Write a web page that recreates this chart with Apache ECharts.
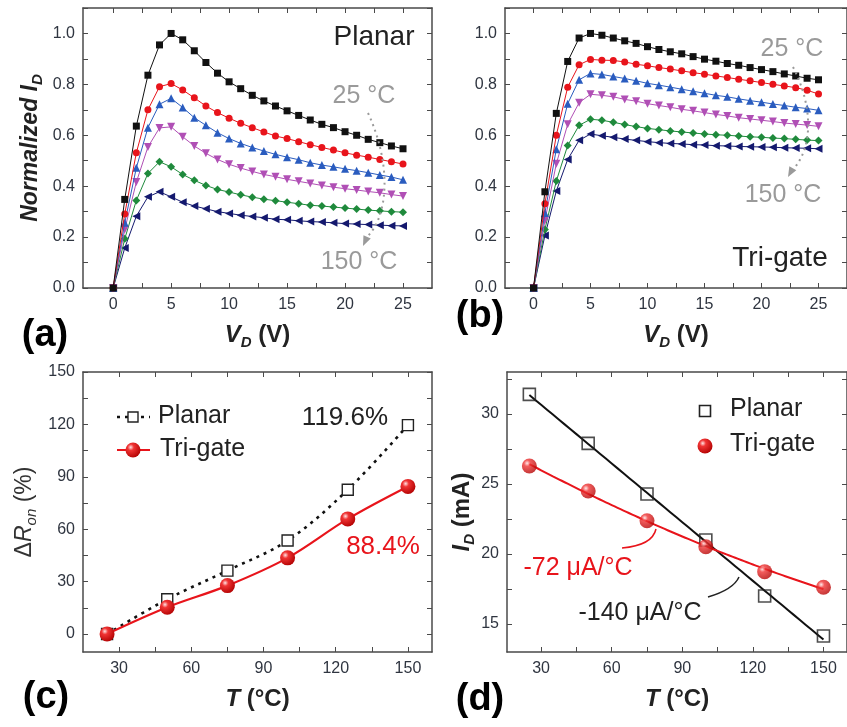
<!DOCTYPE html>
<html><head><meta charset="utf-8">
<script src="https://cdn.jsdelivr.net/npm/echarts@6/dist/echarts.min.js"></script>
<style>html,body{margin:0;padding:0;background:#fff}#c{width:847px;height:727px}</style>
</head><body><div id="c"></div>
<script>
// ---------- DATA ----------
const vd = [0,1,2,3,4,5,6,7,8,9,10,11,12,13,14,15,16,17,18,19,20,21,22,23,24,25];
const tempNames = ['25 °C','50 °C','75 °C','100 °C','125 °C','150 °C'];
// (a) Planar, normalized ID vs VD
const planar25  = [0,0.348,0.636,0.836,0.955,1.000,0.975,0.932,0.886,0.844,0.810,0.783,0.757,0.735,0.715,0.696,0.678,0.660,0.643,0.630,0.614,0.600,0.584,0.571,0.558,0.547];
const planar50  = [0,0.291,0.531,0.700,0.791,0.803,0.778,0.747,0.715,0.689,0.667,0.647,0.630,0.613,0.597,0.587,0.575,0.563,0.552,0.542,0.531,0.522,0.514,0.505,0.496,0.487];
const planar75  = [0,0.256,0.472,0.630,0.722,0.745,0.709,0.669,0.639,0.610,0.587,0.568,0.552,0.538,0.525,0.514,0.504,0.492,0.483,0.476,0.468,0.461,0.453,0.444,0.436,0.425];
const planar100 = [0,0.230,0.416,0.554,0.629,0.633,0.594,0.558,0.529,0.505,0.486,0.471,0.458,0.446,0.437,0.427,0.419,0.411,0.403,0.396,0.390,0.385,0.379,0.374,0.367,0.361];
const planar125 = [0,0.193,0.344,0.450,0.496,0.476,0.446,0.423,0.403,0.387,0.377,0.366,0.357,0.349,0.343,0.337,0.331,0.325,0.322,0.318,0.314,0.310,0.306,0.303,0.300,0.298];
const planar150 = [0,0.157,0.282,0.358,0.378,0.358,0.337,0.322,0.311,0.300,0.293,0.286,0.281,0.276,0.270,0.268,0.264,0.261,0.259,0.256,0.253,0.251,0.249,0.247,0.245,0.244];
// (b) Tri-gate
const tri25  = [0,0.378,0.686,0.890,0.982,1.000,0.993,0.982,0.971,0.961,0.948,0.937,0.928,0.920,0.909,0.899,0.891,0.882,0.875,0.866,0.858,0.850,0.841,0.833,0.824,0.818];
const tri50  = [0,0.331,0.600,0.789,0.877,0.898,0.895,0.894,0.888,0.879,0.873,0.866,0.860,0.853,0.846,0.840,0.833,0.827,0.820,0.814,0.807,0.800,0.794,0.787,0.777,0.762];
const tri75  = [0,0.295,0.545,0.724,0.818,0.843,0.839,0.831,0.823,0.814,0.804,0.797,0.789,0.781,0.773,0.765,0.757,0.751,0.743,0.736,0.730,0.723,0.717,0.710,0.705,0.698];
const tri100 = [0,0.265,0.488,0.643,0.728,0.761,0.757,0.751,0.741,0.734,0.724,0.717,0.710,0.702,0.696,0.689,0.682,0.676,0.669,0.664,0.659,0.654,0.648,0.644,0.640,0.635];
const tri125 = [0,0.230,0.420,0.560,0.639,0.663,0.659,0.651,0.642,0.634,0.627,0.622,0.617,0.613,0.609,0.605,0.602,0.600,0.597,0.594,0.592,0.589,0.587,0.584,0.581,0.579];
const tri150 = [0,0.206,0.381,0.505,0.580,0.605,0.598,0.592,0.585,0.580,0.575,0.571,0.568,0.566,0.563,0.562,0.559,0.558,0.556,0.555,0.554,0.553,0.551,0.550,0.549,0.547];
// (c) ΔRon vs T
const temps = [25,50,75,100,125,150];
const dRonPlanar = [0,19.9,36.3,53.5,82.6,119.6];
const dRonTri    = [0,15.3,27.7,43.6,65.9,84.5];
// (d) ID vs T
const idPlanar = [31.4,27.9,24.29,21.0,17.0,14.14];
const idTri    = [26.29,24.5,22.38,20.52,18.74,17.62];
// tick values / labels
const vdTicks  = [0,2.5,5,7.5,10,12.5,15,17.5,20,22.5,25];
const vdLabels = [0,5,10,15,20,25];
const normTicks  = [0,0.1,0.2,0.3,0.4,0.5,0.6,0.7,0.8,0.9,1.0,1.1];
const normLabels = [0,0.2,0.4,0.6,0.8,1.0];
const tTicks  = [30,45,60,75,90,105,120,135,150];
const tLabels = [30,60,90,120,150];
const ronTicks  = [0,15,30,45,60,75,90,105,120,135,150];
const ronLabels = [0,30,60,90,120,150];
const idTicks  = [15,17.5,20,22.5,25,27.5,30,32.5];
const idLabels = [15,20,25,30];

// ---------- STYLE ----------
const FONT = "'Liberation Sans', Arial, Helvetica, sans-serif";
const AXC = '#4a4a4a';
const LBL = '#2f3540';
const RED = '#e8141b';
const curveColors = ['#111111', '#e8141b', '#2a5cbf', '#b04fb5', '#1f8a3c', '#14196e'];
const curveSymbols = ['rect','circle','triangle','triangle','diamond','triangle'];
const curveRot = [0,0,0,180,0,90];
const curveSize = [7,7,8,8,8,8];

function sphere() {
  return new echarts.graphic.RadialGradient(0.35, 0.32, 0.75, [
    {offset:0, color:'#ffe4e4'}, {offset:0.28, color:'#f03434'}, {offset:1, color:'#b00000'}
  ]);
}

const grids = [
  {left:83, top:8, width:349, height:280},
  {left:505, top:8, width:349, height:280},
  {left:83, top:372, width:349, height:280},
  {left:507, top:372, width:349, height:280}
];

function xAxes(g, min, max, ticks, labels, fmt, name, rich) {
  const base = {type:'value', gridIndex:g, min, max, splitLine:{show:false},
    axisLine:{show:true, onZero:false, lineStyle:{color:AXC, width:1.5}},
    axisTick:{show:true, inside:true, length:5, customValues:ticks, lineStyle:{color:AXC, width:1}}};
  return [
    Object.assign({}, base, {position:'bottom',
      axisLabel:{show:true, customValues:labels, formatter:fmt, color:LBL, fontSize:16, fontFamily:FONT, margin:9},
      name, nameLocation:'middle', nameGap:33, nameTextStyle:{rich}}),
    Object.assign({}, base, {position:'top', axisLabel:{show:false}})
  ];
}
function yAxes(g, min, max, ticks, labels, fmt, name, gap, rich) {
  const base = {type:'value', gridIndex:g, min, max, splitLine:{show:false},
    axisLine:{show:true, onZero:false, lineStyle:{color:AXC, width:1.5}},
    axisTick:{show:true, inside:true, length:5, customValues:ticks, lineStyle:{color:AXC, width:1}}};
  return [
    Object.assign({}, base, {position:'left',
      axisLabel:{show:true, customValues:labels, formatter:fmt, color:LBL, fontSize:16, fontFamily:FONT, margin:8},
      name, nameLocation:'middle', nameGap:gap, nameTextStyle:{rich}}),
    Object.assign({}, base, {position:'right', axisLabel:{show:false}})
  ];
}

function richBold(size, sub) {
  return {
    b:{fontSize:size, fontWeight:'bold', fontStyle:'italic', fontFamily:FONT, color:'#222', lineHeight:size+5},
    s:{fontSize:sub, fontWeight:'bold', fontStyle:'italic', fontFamily:FONT, color:'#222', lineHeight:4, verticalAlign:'bottom'},
    r:{fontSize:size, fontWeight:'bold', fontFamily:FONT, color:'#222', lineHeight:size+5}
  };
}
const richR = {
  n:{fontSize:23, fontFamily:FONT, color:'#333', lineHeight:28},
  i:{fontSize:23, fontStyle:'italic', fontFamily:FONT, color:'#333', lineHeight:28},
  s:{fontSize:15, fontStyle:'italic', fontFamily:FONT, color:'#333', lineHeight:4, verticalAlign:'bottom'}
};

const f1 = v => v.toFixed(1);
const f0 = v => String(v);

const xAxis = [].concat(
  xAxes(0, -2.6, 27.5, vdTicks, vdLabels, f0, '{b|V}{s|D}{r| (V)}', richBold(24, 15)),
  xAxes(1, -2.5, 27.5, vdTicks, vdLabels, f0, '{b|V}{s|D}{r| (V)}', richBold(24, 15)),
  xAxes(2, 15, 160, tTicks, tLabels, f0, '{b|T}{r| (°C)}', richBold(24, 15)),
  xAxes(3, 15.5, 160, tTicks, tLabels, f0, '{b|T}{r| (°C)}', richBold(24, 15))
);
const yAxis = [].concat(
  yAxes(0, 0, 1.1, normTicks, normLabels, f1, '{b|Normalized I}{s|D}', 38, richBold(23, 15)),
  yAxes(1, 0, 1.1, normTicks, normLabels, f1, '', 40, richBold(23, 15)),
  yAxes(2, -10.3, 150, ronTicks, ronLabels, f0, '{n|Δ}{i|R}{s|on}{n| (%)}', 44, richR),
  yAxes(3, 13, 33, idTicks, idLabels, f0, '{b|I}{s|D}{r| (mA)}', 29, richBold(24, 15))
);

const series = [];
const aSets = [planar25, planar50, planar75, planar100, planar125, planar150];
const bSets = [tri25, tri50, tri75, tri100, tri125, tri150];
[aSets, bSets].forEach((sets, g) => {
  sets.forEach((arr, k) => {
    series.push({
      type:'line', name:(g ? 'Tri-gate ' : 'Planar ') + tempNames[k],
      xAxisIndex:2*g, yAxisIndex:2*g,
      data: vd.map((v, i) => [v, arr[i]]),
      symbol: curveSymbols[k], symbolSize: curveSize[k], symbolRotate: curveRot[k],
      lineStyle:{color:curveColors[k], width:1}, itemStyle:{color:curveColors[k]},
      z: 10 - k, silent:true, animation:false
    });
  });
});

// (c)
series.push({type:'line', name:'Planar ΔRon', xAxisIndex:4, yAxisIndex:4,
  data: temps.map((t,i)=>[t, dRonPlanar[i]]), smooth:0.35,
  symbol:'rect', symbolSize:11, showAllSymbol:true,
  lineStyle:{color:'#111', width:2.6, type:[3,5]},
  itemStyle:{color:'#fff', borderColor:'#222', borderWidth:1.4}, z:5, animation:false});
series.push({type:'line', name:'Tri-gate ΔRon', xAxisIndex:4, yAxisIndex:4,
  data: temps.map((t,i)=>[t, dRonTri[i]]), smooth:0.35,
  symbol:'circle', symbolSize:15,
  lineStyle:{color:RED, width:2.2},
  itemStyle:{color:sphere()}, z:6, animation:false});

// (d) fits computed from data
function polyfit(xs, ys, deg) {
  const n = deg + 1;
  const A = Array.from({length:n}, () => new Array(n + 1).fill(0));
  for (let r = 0; r < n; r++) {
    for (let c = 0; c < n; c++) A[r][c] = xs.reduce((s, x) => s + Math.pow(x, r + c), 0);
    A[r][n] = xs.reduce((s, x, i) => s + ys[i] * Math.pow(x, r), 0);
  }
  for (let i = 0; i < n; i++) {
    let p = i; for (let r = i + 1; r < n; r++) if (Math.abs(A[r][i]) > Math.abs(A[p][i])) p = r;
    const tmp = A[i]; A[i] = A[p]; A[p] = tmp;
    for (let r = 0; r < n; r++) if (r !== i) {
      const f = A[r][i] / A[i][i];
      for (let c = i; c <= n; c++) A[r][c] -= f * A[i][c];
    }
  }
  return A.map((row, i) => row[n] / row[i]);
}
const evalPoly = (co, x) => co.reduce((s, c, i) => s + c * Math.pow(x, i), 0);
const cPl = polyfit(temps, idPlanar, 1);
const cTr = polyfit(temps, idTri, 2);
const fitX = [];
for (let t = temps[0]; t <= temps[temps.length-1] + 1e-9; t += 2.5) fitX.push(t);

series.push({type:'line', name:'Planar fit', xAxisIndex:6, yAxisIndex:6,
  data: fitX.map(t => [t, evalPoly(cPl, t)]), showSymbol:false,
  lineStyle:{color:'#111', width:2}, z:3, animation:false, silent:true});
series.push({type:'line', name:'Tri-gate fit', xAxisIndex:6, yAxisIndex:6,
  data: fitX.map(t => [t, evalPoly(cTr, t)]), showSymbol:false, smooth:true,
  lineStyle:{color:RED, width:2}, z:3, animation:false, silent:true});
series.push({type:'scatter', name:'Planar ID', xAxisIndex:6, yAxisIndex:6,
  data: temps.map((t,i)=>[t, idPlanar[i]]), symbol:'rect', symbolSize:12,
  itemStyle:{color:'rgba(255,255,255,0)', borderColor:'#222', borderWidth:1.6}, z:6, animation:false});
series.push({type:'scatter', name:'Tri-gate ID', xAxisIndex:6, yAxisIndex:6,
  data: temps.map((t,i)=>[t, idTri[i]]), symbol:'circle', symbolSize:15,
  itemStyle:{color:sphere()}, z:7, animation:false});

// ---------- ANNOTATIONS ----------
function txt(x, y, text, size, color, opts) {
  return {type:'text', z:100, style:{x, y, text, fill:color,
    font:(opts && opts.weight ? opts.weight + ' ' : '') + size + 'px ' + FONT,
    align:(opts && opts.align) || 'center', verticalAlign:'middle'}};
}
function head(tx, ty, dx, dy, color) {
  const L = Math.hypot(dx, dy); dx /= L; dy /= L;
  const bx = tx - 10*dx, by = ty - 10*dy, px = -dy, py = dx;
  return {type:'polygon', z:100, shape:{points:[[tx,ty],[bx+4*px,by+4*py],[bx-4*px,by-4*py]]}, style:{fill:color}};
}
const GRAY = '#9a9a9a';
const graphic = [
  txt(45, 336, '(a)', 38, '#000', {weight:'bold'}),
  txt(480, 317, '(b)', 38, '#000', {weight:'bold'}),
  txt(46, 698, '(c)', 38, '#000', {weight:'bold'}),
  txt(480, 700, '(d)', 38, '#000', {weight:'bold'}),
  txt(374, 37, 'Planar', 28, '#222'),
  txt(364, 96, '25 °C', 25, GRAY),
  txt(359, 262, '150 °C', 25, GRAY),
  {type:'bezierCurve', z:100, shape:{x1:368,y1:113,cpx1:392,cpy1:165,cpx2:388,cpy2:215,x2:368,y2:236},
    style:{stroke:GRAY, lineWidth:2, lineDash:[2,4], fill:null}},
  head(363, 246, -0.45, 1, GRAY),
  txt(792, 49, '25 °C', 25, GRAY),
  txt(783, 195, '150 °C', 25, GRAY),
  {type:'bezierCurve', z:100, shape:{x1:793,y1:67,cpx1:810,cpy1:100,cpx2:815,cpy2:140,x2:796,y2:166},
    style:{stroke:GRAY, lineWidth:2, lineDash:[2,4], fill:null}},
  head(788, 177, -0.55, 1, GRAY),
  txt(780, 258, 'Tri-gate', 28, '#222'),
  // (c) legend and labels
  {type:'line', z:100, shape:{x1:117,y1:417,x2:150,y2:417}, style:{stroke:'#111', lineWidth:2.6, lineDash:[3,5]}},
  {type:'rect', z:101, shape:{x:128,y:412,width:10,height:10}, style:{fill:'#fff', stroke:'#222', lineWidth:1.4}},
  txt(158, 416, 'Planar', 25, '#222', {align:'left'}),
  {type:'line', z:100, shape:{x1:117,y1:450,x2:150,y2:450}, style:{stroke:RED, lineWidth:2.2}},
  {type:'circle', z:101, shape:{cx:133,cy:450,r:7.5}, style:{fill:sphere()}},
  txt(160, 449, 'Tri-gate', 25, '#222', {align:'left'}),
  txt(345, 418, '119.6%', 26, '#222'),
  txt(383, 547, '88.4%', 26, RED),
  // (d) legend and labels
  {type:'rect', z:101, shape:{x:699.5,y:405.5,width:11,height:11}, style:{fill:'#fff', stroke:'#222', lineWidth:1.6}},
  txt(730, 409, 'Planar', 25, '#222', {align:'left'}),
  {type:'circle', z:101, shape:{cx:705,cy:446,r:7.5}, style:{fill:sphere()}},
  txt(730, 444, 'Tri-gate', 25, '#222', {align:'left'}),
  txt(578, 568, '-72 μA/°C', 25, RED),
  txt(640, 613, '-140 μA/°C', 25, '#222'),
  {type:'bezierCurve', z:100, shape:{x1:622,y1:548,cpx1:645,cpy1:546,cpx2:654,cpy2:538,x2:656,y2:529},
    style:{stroke:RED, lineWidth:1.5, fill:null}},
  {type:'bezierCurve', z:100, shape:{x1:708,y1:597,cpx1:725,cpy1:592,cpx2:735,cpy2:586,x2:739,y2:577},
    style:{stroke:'#222', lineWidth:1.5, fill:null}}
];

const chart = echarts.init(document.getElementById('c'), null, {renderer:'canvas'});
chart.setOption({
  animation:false, backgroundColor:'#fff',
  grid: grids.map(g => Object.assign({containLabel:false}, g)),
  xAxis, yAxis, series, graphic
});
</script></body></html>
